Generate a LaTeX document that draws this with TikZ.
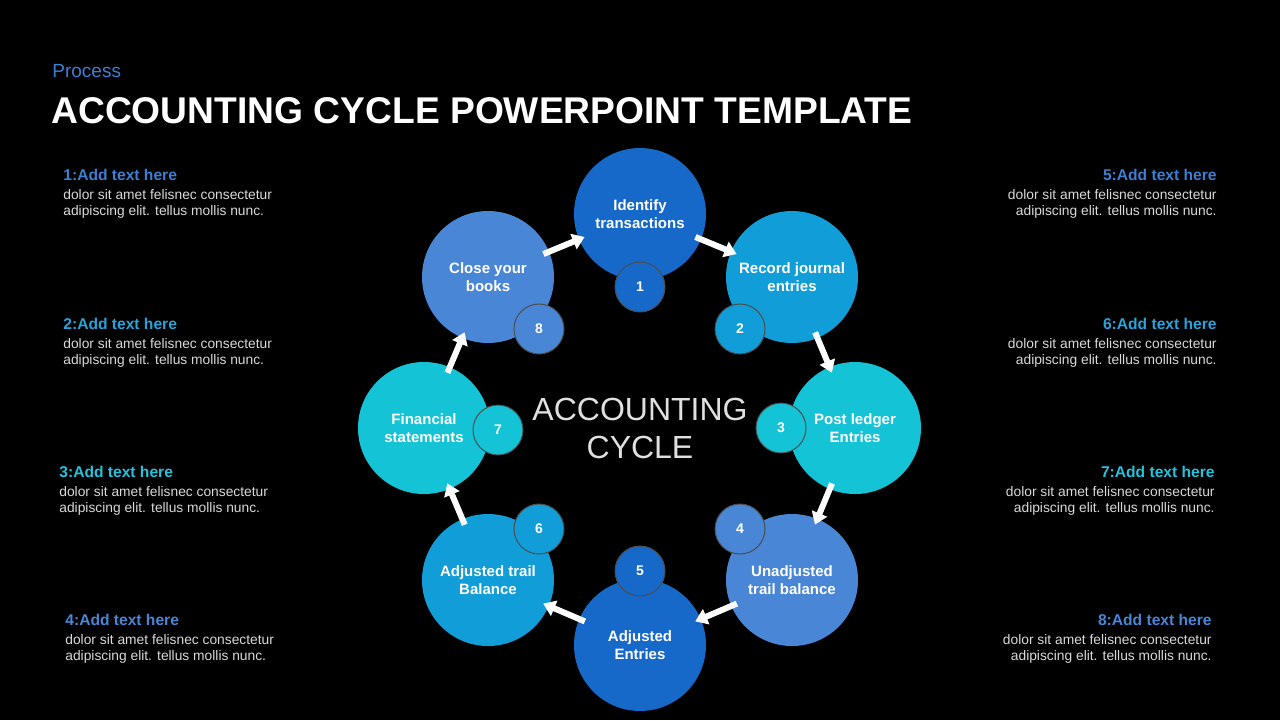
\documentclass[tikz,border=0pt]{standalone}
\usepackage{fontspec}
\setmainfont{Liberation Sans}
\usetikzlibrary{arrows.meta}
\definecolor{cA}{HTML}{1668C9}
\definecolor{cB}{HTML}{119DD8}
\definecolor{cC}{HTML}{14C3D6}
\definecolor{cD}{HTML}{4A86D6}
\definecolor{hA}{HTML}{3D7FD3}
\definecolor{hB}{HTML}{2AA3DB}
\definecolor{hC}{HTML}{25C3DB}
\definecolor{hD}{HTML}{4A86D6}
\tikzset{
 big/.style={circle,minimum size=66pt,inner sep=0pt,text=white,font=\fontsize{7.5}{9}\selectfont\bfseries,align=center},
 small/.style={circle,minimum size=25pt,inner sep=0pt,text=white,font=\fontsize{7}{8}\selectfont\bfseries,draw=black!70,line width=0.5pt},
 flow/.style={white,line width=3pt,-{Triangle[length=6pt,width=8pt]},shorten <=30pt,shorten >=30pt},
 head/.style={font=\fontsize{7.8}{9}\selectfont\bfseries,inner sep=0pt},
 body/.style={text=white!85!black,font=\fontsize{6.9}{8}\selectfont,inner sep=0pt}
}
\begin{document}
\begin{tikzpicture}[x=0.5pt,y=-0.5pt]
\fill[black] (0,0) rectangle (1280,720);
\useasboundingbox (0,0) rectangle (1280,720);
\node[anchor=west,text=hA,font=\fontsize{9.5}{11}\selectfont,inner sep=0pt] (pr) at (52,71) {Process};
\node[anchor=west,text=white,font=\fontsize{18.6}{20}\selectfont\bfseries,inner sep=0pt] (ti) at (51,111) {ACCOUNTING CYCLE POWERPOINT TEMPLATE};
% big circles
\node[big,fill=cA] (b1) at (640,214) {};
\node[big,fill=cB] (b2) at (792,277) {};
\node[big,fill=cC] (b3) at (855,428) {};
\node[big,fill=cD] (b4) at (792,580) {};
\node[big,fill=cA] (b5) at (640,645) {};
\node[big,fill=cB] (b6) at (488,580) {};
\node[big,fill=cC] (b7) at (424,428) {};
\node[big,fill=cD] (b8) at (488,277) {};
% arrows
\draw[flow] (b1.center) -- (b2.center);
\draw[flow] (b2.center) -- (b3.center);
\draw[flow] (b3.center) -- (b4.center);
\draw[flow] (b4.center) -- (b5.center);
\draw[flow] (b5.center) -- (b6.center);
\draw[flow] (b6.center) -- (b7.center);
\draw[flow] (b7.center) -- (b8.center);
\draw[flow] (b8.center) -- (b1.center);
% labels
\node[big] (l1) at (b1) {Identify\\transactions};
\node[big] (l2) at (b2) {Record journal\\entries};
\node[big] (l3) at (b3) {Post ledger\\Entries};
\node[big] (l4) at (b4) {Unadjusted\\trail balance};
\node[big] (l5) at (b5) {Adjusted\\Entries};
\node[big] (l6) at (b6) {Adjusted trail\\Balance};
\node[big] (l7) at (b7) {Financial\\statements};
\node[big] (l8) at (b8) {Close your\\books};
% small circles
\node[small,fill=cA] (s1) at (640,287) {1};
\node[small,fill=cB] (s2) at (740,329) {2};
\node[small,fill=cC] (s3) at (781,428) {3};
\node[small,fill=cD] (s4) at (740,529) {4};
\node[small,fill=cA] (s5) at (640,571) {5};
\node[small,fill=cB] (s6) at (539,529) {6};
\node[small,fill=cC] (s7) at (498,430) {7};
\node[small,fill=cD] (s8) at (539,329) {8};
\node[text=white!88!black,font=\fontsize{16}{19}\selectfont,align=center] (ctr) at (640,428) {ACCOUNTING\\CYCLE};
% side texts
\node[head,anchor=west,text=hA] (h1) at (63,175) {1:Add text here};
\node[body,anchor=north west,align=left] (t1) at (63,189) {dolor sit amet felisnec consectetur\\adipiscing elit. tellus mollis nunc.};
\node[head,anchor=west,text=hB] (h2) at (63,324) {2:Add text here};
\node[body,anchor=north west,align=left] (t2) at (63,338) {dolor sit amet felisnec consectetur\\adipiscing elit. tellus mollis nunc.};
\node[head,anchor=west,text=hC] (h3) at (59,472) {3:Add text here};
\node[body,anchor=north west,align=left] (t3) at (59,486) {dolor sit amet felisnec consectetur\\adipiscing elit. tellus mollis nunc.};
\node[head,anchor=west,text=hD] (h4) at (65,620) {4:Add text here};
\node[body,anchor=north west,align=left] (t4) at (65,634) {dolor sit amet felisnec consectetur\\adipiscing elit. tellus mollis nunc.};
\node[head,anchor=east,text=hA] (h5) at (1217,175) {5:Add text here};
\node[body,anchor=north east,align=right] (t5) at (1217,189) {dolor sit amet felisnec consectetur\\adipiscing elit. tellus mollis nunc.};
\node[head,anchor=east,text=hB] (h6) at (1217,324) {6:Add text here};
\node[body,anchor=north east,align=right] (t6) at (1217,338) {dolor sit amet felisnec consectetur\\adipiscing elit. tellus mollis nunc.};
\node[head,anchor=east,text=hC] (h7) at (1215,472) {7:Add text here};
\node[body,anchor=north east,align=right] (t7) at (1215,486) {dolor sit amet felisnec consectetur\\adipiscing elit. tellus mollis nunc.};
\node[head,anchor=east,text=hD] (h8) at (1212,620) {8:Add text here};
\node[body,anchor=north east,align=right] (t8) at (1212,634) {dolor sit amet felisnec consectetur\\adipiscing elit. tellus mollis nunc.};
\end{tikzpicture}
\end{document}
